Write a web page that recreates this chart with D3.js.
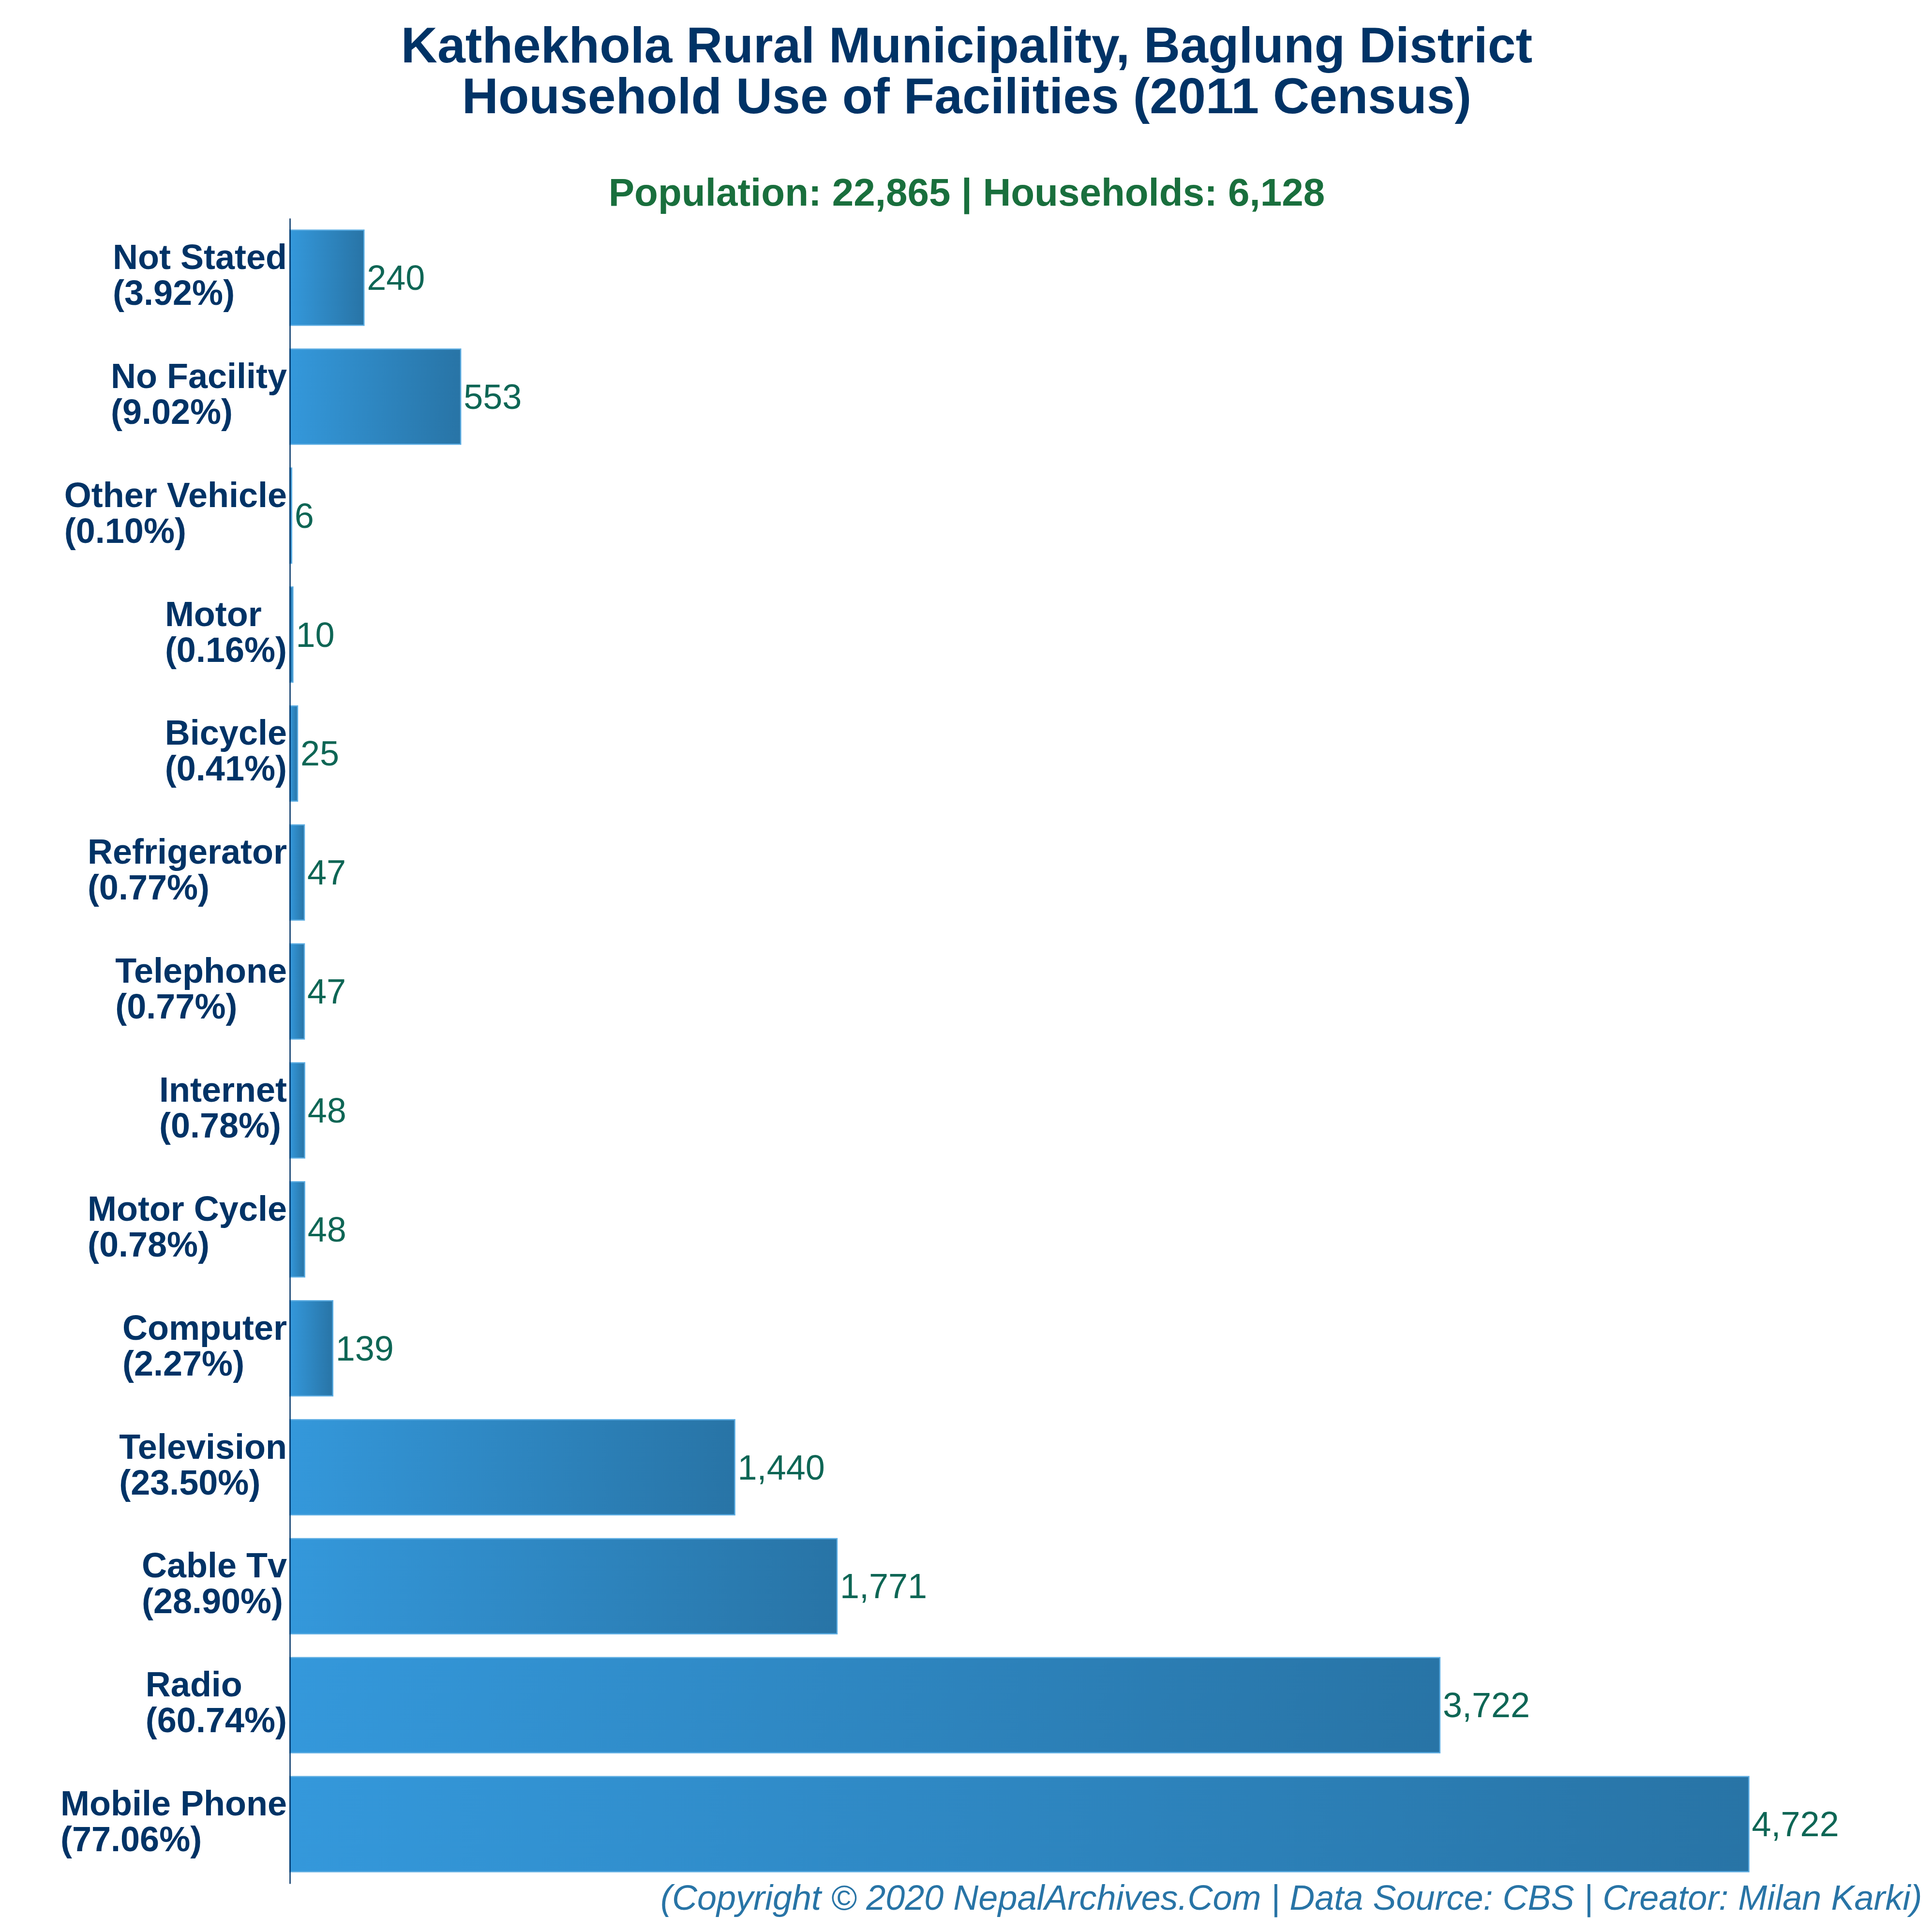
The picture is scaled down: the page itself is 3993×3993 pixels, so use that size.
<!DOCTYPE html>
<html>
<head>
<meta charset="utf-8">
<script src="https://cdn.jsdelivr.net/npm/d3@7"></script>
<style>
  html, body { margin: 0; padding: 0; background: #fff; }
  svg { display: block; font-family: "Liberation Sans", Arial, sans-serif; }
</style>
</head>
<body>
<div id="chart"></div>
<script>
// top to bottom, same order as the picture
var categories = ["Not Stated", "No Facility", "Other Vehicle", "Motor", "Bicycle", "Refrigerator", "Telephone",
  "Internet", "Motor Cycle", "Computer", "Television", "Cable Tv", "Radio", "Mobile Phone"];
var households = [240, 553, 6, 10, 25, 47, 47, 48, 48, 139, 1440, 1771, 3722, 4722];
var percents = ["3.92", "9.02", "0.10", "0.16", "0.41", "0.77", "0.77", "0.78", "0.78", "2.27", "23.50", "28.90", "60.74", "77.06"];

var titleLines = ["Kathekhola Rural Municipality, Baglung District", "Household Use of Facilities (2011 Census)"];
var subTitle = "Population: 22,865 | Households: 6,128";
var footer = "(Copyright \u00A9 2020 NepalArchives.Com | Data Source: CBS | Creator: Milan Karki)";

var svgWidth = 3993;
var svgHeight = 3993;

var svg = d3.select("#chart")
  .append("svg")
  .attr("width", svgWidth)
  .attr("height", svgHeight);

var xScale = d3.scaleLinear()
  .domain([0, 4722])
  .range([599, 3614.5]);

var yScale = d3.scaleBand()
  .domain(categories)
  .range([451, 3893])
  .paddingInner(0.2)
  .paddingOuter(0.1);

var grad = svg.append("defs").append("linearGradient")
  .attr("id", "barGrad");
grad.append("stop").attr("offset", "0%").attr("stop-color", "#3498db");
grad.append("stop").attr("offset", "100%").attr("stop-color", "#2874a6");

// title
svg.append("g").selectAll("text")
  .data(titleLines)
  .enter()
  .append("text")
  .attr("x", 1998)
  .attr("y", (d, i) => 129 + i * 105)
  .attr("text-anchor", "middle")
  .attr("font-size", 104)
  .attr("font-weight", "bold")
  .attr("fill", "#003366")
  .text(d => d);

svg.append("text")
  .attr("x", 1998)
  .attr("y", 425)
  .attr("text-anchor", "middle")
  .attr("font-size", 80)
  .attr("font-weight", "bold")
  .attr("fill", "#196f3d")
  .text(subTitle);

// bars
var rows = categories.map((c, i) => ({ name: c, value: households[i], pct: percents[i] }));

svg.append("g").selectAll("rect")
  .data(rows)
  .enter()
  .append("rect")
  .attr("x", xScale(0))
  .attr("y", d => yScale(d.name))
  .attr("width", d => xScale(d.value) - xScale(0))
  .attr("height", yScale.bandwidth())
  .attr("fill", "url(#barGrad)")
  .attr("stroke", "#5dade2")
  .attr("stroke-width", 2.5);

svg.append("g").selectAll("text")
  .data(rows)
  .enter()
  .append("text")
  .attr("x", d => xScale(d.value) + 6)
  .attr("y", d => yScale(d.name) + yScale.bandwidth() / 2 + 25)
  .attr("font-size", 72)
  .attr("fill", "#0e6655")
  .text(d => d3.format(",")(d.value));

// y axis, labels are two lines left aligned inside their own block
var yAxis = svg.append("g")
  .attr("transform", `translate(${xScale(0)}, 0)`)
  .call(d3.axisLeft(yScale).tickSize(0).tickFormat(""));

yAxis.select(".domain")
  .attr("stroke", "#003366")
  .attr("stroke-width", 2.5);

yAxis.selectAll(".tick").each(function(name, i) {
  var t = d3.select(this).select("text")
    .attr("font-family", "Liberation Sans")
    .attr("font-size", 72)
    .attr("font-weight", "bold")
    .attr("fill", "#003366")
    .attr("text-anchor", "start")
    .attr("dy", null)
    .attr("x", 0)
    .text(null);
  var l1 = t.append("tspan").attr("x", 0).attr("y", -18).text(name);
  var l2 = t.append("tspan").attr("x", 0).attr("y", 56).text("(" + percents[i] + "%)");
  var w = Math.max(l1.node().getComputedTextLength(), l2.node().getComputedTextLength());
  l1.attr("x", -6 - w);
  l2.attr("x", -6 - w);
});

svg.append("text")
  .attr("x", 1365)
  .attr("y", 3947)
  .attr("font-size", 72)
  .attr("font-style", "italic")
  .attr("fill", "#2874a6")
  .text(footer);
</script>
</body>
</html>
